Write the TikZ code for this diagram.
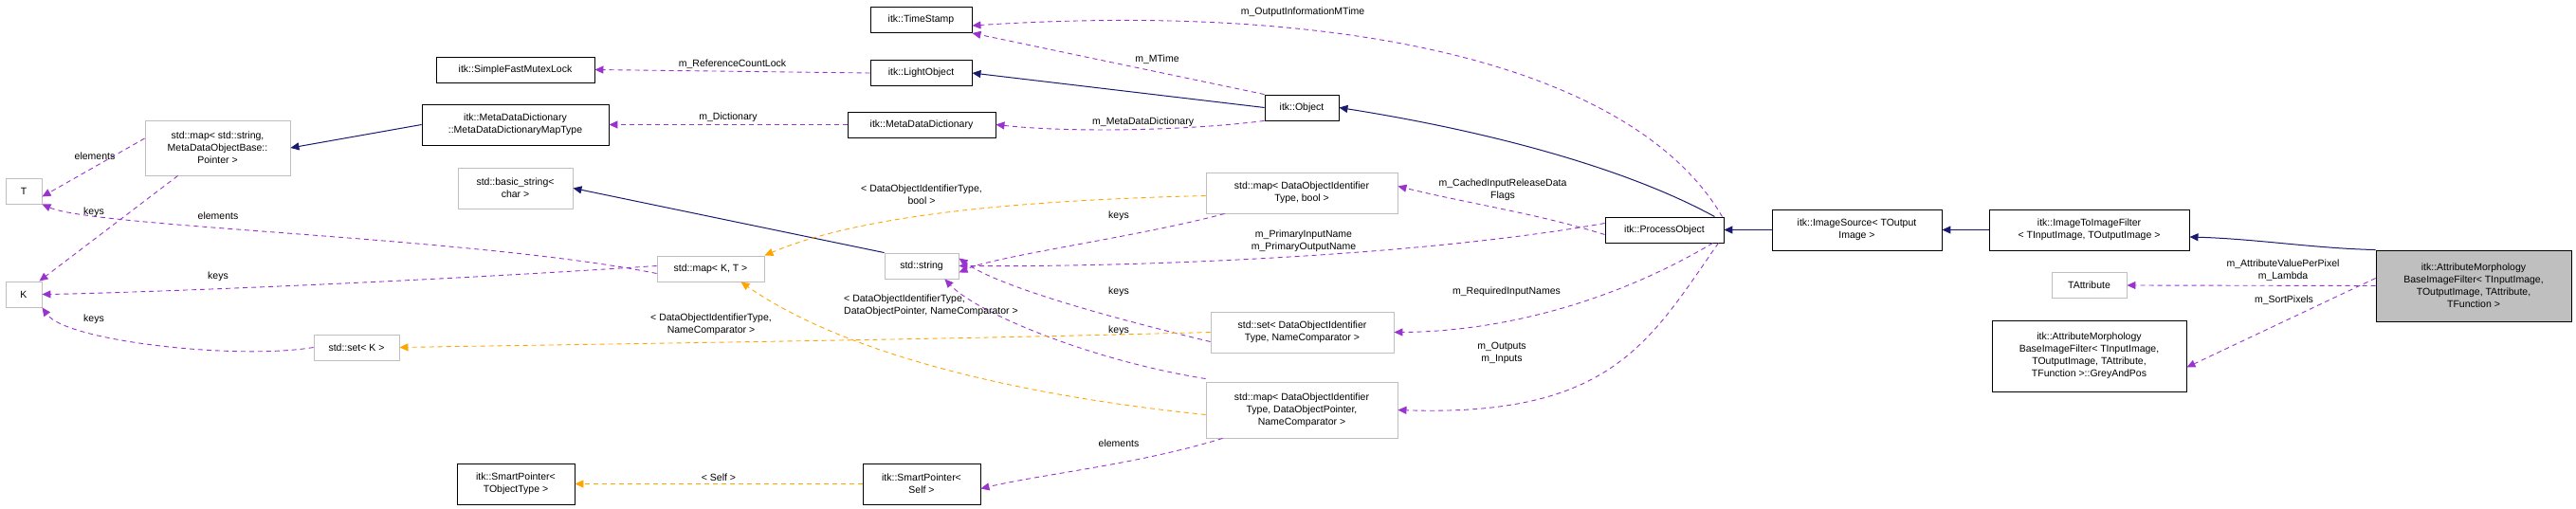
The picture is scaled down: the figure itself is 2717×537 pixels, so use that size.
\documentclass[tikz,border=0pt]{standalone}
\usepackage{fontspec}
\setmainfont{Liberation Sans}
\usetikzlibrary{arrows.meta}
\definecolor{navy}{HTML}{191970}
\definecolor{purp}{HTML}{9A32CD}
\definecolor{orng}{HTML}{FFA500}
\definecolor{gbord}{HTML}{BFBFBF}
\begin{document}
\begin{tikzpicture}[x=1pt,y=-1pt,
 every node/.style={font=\fontsize{10.5}{13}\selectfont,inner sep=2pt},
 bx/.style={draw=black,line width=0.9pt,align=center,minimum height=27,inner sep=3pt},
 gb/.style={draw=gbord,line width=0.9pt,align=center,minimum height=27,inner sep=3pt},
 inh/.style={navy,line width=1pt,-{Triangle[length=9,width=8]}},
 use/.style={purp,line width=0.9pt,dash pattern=on 5pt off 4pt,-{Triangle[length=9,width=8]}},
 tpl/.style={orng,line width=0.9pt,dash pattern=on 5pt off 4pt,-{Triangle[length=9,width=8]}},
 lb/.style={align=center,text=black,font=\fontsize{10.5}{13}\selectfont}]
\useasboundingbox (0,0) rectangle (2717,537);
% nodes
\node[bx,minimum width=167] (mutex) at (543.5,73.5) {itk::SimpleFastMutexLock};
\node[bx,minimum width=197,minimum height=43] (maptype) at (543.5,131.5) {itk::MetaDataDictionary\\::MetaDataDictionaryMapType};
\node[gb,minimum width=153,minimum height=58] (mapstr) at (229.5,156) {std::map\textless{} std::string,\\MetaDataObjectBase::\\Pointer \textgreater};
\node[gb,minimum width=38] (T) at (25,201.5) {T};
\node[gb,minimum width=38] (K) at (25,310.5) {K};
\node[gb,minimum width=121,minimum height=43] (bstr) at (543.5,198.5) {std::basic\_string\textless\\char \textgreater};
\node[gb,minimum width=113] (mapKT) at (749.5,283.5) {std::map\textless{} K, T \textgreater};
\node[gb,minimum width=90] (setK) at (376,366.5) {std::set\textless{} K \textgreater};
\node[bx,minimum width=124,minimum height=43] (spT) at (544,510.5) {itk::SmartPointer\textless\\TObjectType \textgreater};
\node[bx,minimum width=107] (ts) at (971.5,21) {itk::TimeStamp};
\node[bx,minimum width=107] (lo) at (971.5,77) {itk::LightObject};
\node[bx,minimum width=156] (mdd) at (972,131.5) {itk::MetaDataDictionary};
\node[bx,minimum width=78] (obj) at (1373,113.5) {itk::Object};
\node[gb,minimum width=202,minimum height=43] (mapbool) at (1373,203.5) {std::map\textless{} DataObjectIdentifier\\Type, bool \textgreater};
\node[gb,minimum width=78] (str) at (972,280.5) {std::string};
\node[gb,minimum width=193,minimum height=43] (setdoi) at (1373.5,350.5) {std::set\textless{} DataObjectIdentifier\\Type, NameComparator \textgreater};
\node[gb,minimum width=202,minimum height=59] (mapdop) at (1373,432.5) {std::map\textless{} DataObjectIdentifier\\Type, DataObjectPointer,\\NameComparator \textgreater};
\node[bx,minimum width=124,minimum height=43] (spS) at (972,510.5) {itk::SmartPointer\textless\\Self \textgreater};
\node[bx,minimum width=125] (po) at (1755.5,242.5) {itk::ProcessObject};
\node[bx,minimum width=179,minimum height=43] (is) at (1958.5,242.5) {itk::ImageSource\textless{} TOutput\\Image \textgreater};
\node[bx,minimum width=211,minimum height=43] (itif) at (2203.5,242.5) {itk::ImageToImageFilter\\\textless{} TInputImage, TOutputImage \textgreater};
\node[draw=black,line width=0.9pt,fill=gbord,align=center,minimum width=206,minimum height=75,inner sep=3pt] (amf) at (2609,301.5) {itk::AttributeMorphology\\BaseImageFilter\textless{} TInputImage,\\TOutputImage, TAttribute,\\TFunction \textgreater};
\node[gb,minimum width=79] (tattr) at (2203.5,301) {TAttribute};
\node[bx,minimum width=205,minimum height=75] (gap) at (2203.5,375.5) {itk::AttributeMorphology\\BaseImageFilter\textless{} TInputImage,\\TOutputImage, TAttribute,\\TFunction \textgreater::GreyAndPos};
% inheritance
\draw[inh] (is) -- (po);
\draw[inh] (itif) -- (is);
\draw[inh] (amf.north west) .. controls (2440,262) and (2380,252) .. (itif.east|-2309,250);
\draw[inh] ([xshift=-10]po.north east) .. controls (1720,180) and (1580,140) .. (obj.east);
\draw[inh] (obj.west) -- (lo.east);
\draw[inh] (str.north west) -- (bstr.east);
\draw[inh] (maptype.west) -- (mapstr.east);
% usage
\draw[use] (lo.west) -- (mutex.east) node[lb,pos=0.5,above] (l1) {m\_ReferenceCountLock};
\draw[use] (mdd.west) -- (maptype.east) node[lb,pos=0.5,above] (l2) {m\_Dictionary};
\draw[use] (obj.north west) -- (ts.south east) node[lb,pos=0.45,above right] (l3) {m\_MTime};
\draw[use] (obj.south west) .. controls (1250,138) and (1130,140) .. (mdd.east) node[lb,pos=0.45,above] (l4) {m\_MetaDataDictionary};
\draw[use] ([xshift=-2]po.north east) .. controls (1730,80) and (1450,0) .. ([yshift=-6]ts.east);
\node[lb] (l5) at (1374,13) {m\_OutputInformationMTime};
\draw[use] ([yshift=-5]po.west) .. controls (1620,225) and (1550,215) .. ([yshift=7]mapbool.east);
\node[lb] (l6) at (1585,200) {m\_CachedInputReleaseData\\Flags};
\draw[use] ([yshift=7]po.west) .. controls (1500,270) and (1200,282) .. (str.east);
\node[lb] (l7) at (1375,254) {m\_PrimaryInputName\\m\_PrimaryOutputName};
\draw[use] ([xshift=-12]po.south east) .. controls (1700,320) and (1580,350) .. (setdoi.east);
\node[lb] (l8) at (1589,308) {m\_RequiredInputNames};
\draw[use] ([xshift=-6]po.south east) .. controls (1740,360) and (1700,440) .. (mapdop.east);
\node[lb] (l9) at (1584,372) {m\_Outputs\\m\_Inputs};
\draw[use] (amf.west) -- (tattr.east);
\node[lb] (l10) at (2408,285) {m\_AttributeValuePerPixel\\m\_Lambda};
\draw[use] ([yshift=8]amf.west) -- ([yshift=-12]gap.east);
\node[lb] (l11) at (2409,317) {m\_SortPixels};
\draw[use] ([xshift=20]mapbool.south west) .. controls (1200,250) and (1050,270) .. ([yshift=-7]str.east);
\node[lb] (l12) at (1180,228) {keys};
\draw[use] ([yshift=-10]setdoi.west) .. controls (1150,330) and (1050,300) .. ([yshift=8]str.east);
\node[lb] (l13) at (1180,308) {keys};
\draw[use] ([yshift=3]mapdop.north west) .. controls (1150,380) and (1030,330) .. ([xshift=-15]str.south east);
\node[lb] (l14) at (1180,349) {keys};
\draw[use] ([xshift=18]mapdop.south west) .. controls (1200,490) and (1100,500) .. ([yshift=-5]spS.east);
\node[lb] (l15) at (1180,468) {elements};
\draw[use] ([yshift=-5]mapKT.west) .. controls (500,250) and (100,240) .. (T.south east);
\node[lb] (l16) at (230,228) {elements};
\draw[use] ([yshift=3]mapKT.west) .. controls (400,300) and (100,310) .. (K.east);
\node[lb] (l17) at (230,292) {keys};
\draw[use] (setK.west) .. controls (250,380) and (70,360) .. (K.south east);
\node[lb] (l18) at (99,337) {keys};
\draw[use] ([yshift=10]mapstr.west) -- ([yshift=-6]T.east);
\node[lb] (l19) at (100,165) {elements};
\draw[use] ([xshift=35]mapstr.south west) -- ([xshift=-3]K.north east);
\node[lb] (l20) at (99,224) {keys};
% template
\draw[tpl] ([yshift=-3]mapbool.west) .. controls (1050,212) and (900,230) .. (mapKT.north east);
\node[lb] (l21) at (972,205) {\textless{} DataObjectIdentifierType,\\bool \textgreater};
\draw[tpl] ([yshift=-5]mapdop.west) .. controls (1100,420) and (900,380) .. ([xshift=-25]mapKT.south east);
\node[lb,align=left] (l22) at (982,322) {\textless{} DataObjectIdentifierType,\\DataObjectPointer, NameComparator \textgreater};
\draw[tpl] (setdoi.west) .. controls (1000,358) and (700,362) .. (setK.east);
\node[lb] (l23) at (750,342) {\textless{} DataObjectIdentifierType,\\NameComparator \textgreater};
\draw[tpl] (spS.west) -- (spT.east) node[lb,pos=0.5,above] (l24) {\textless{} Self \textgreater};
\end{tikzpicture}
\end{document}
